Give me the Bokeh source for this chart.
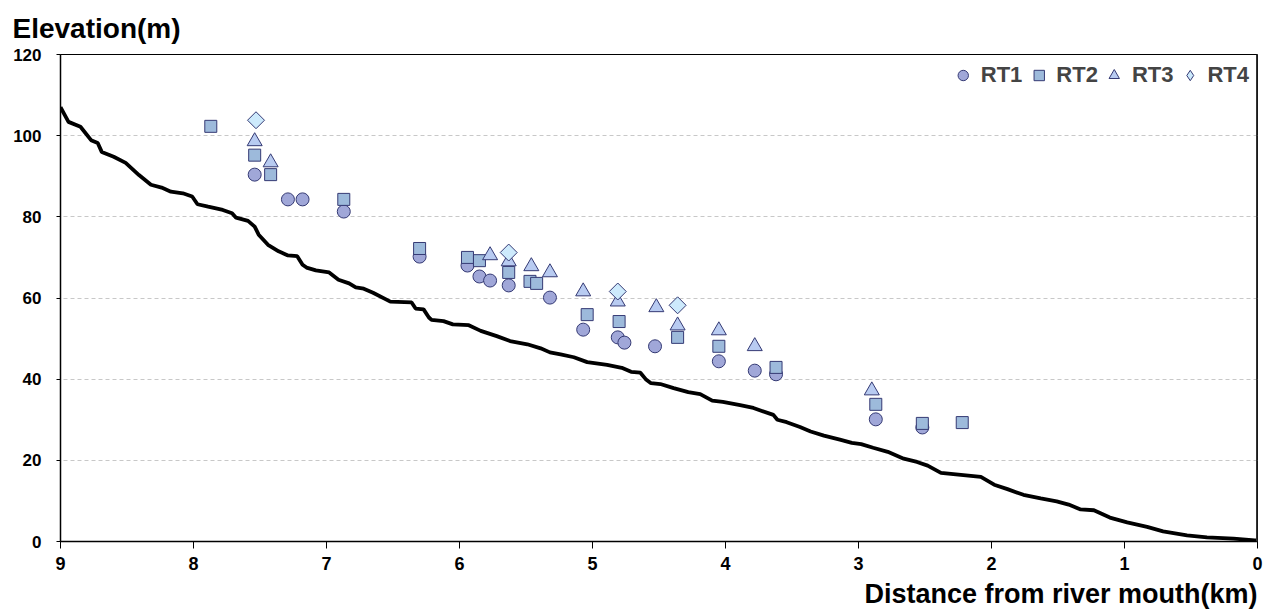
import math
from bokeh.plotting import figure
from bokeh.models import Range1d, Legend, LegendItem, Title, Span, FixedTicker
from bokeh.embed import file_html
from bokeh.resources import INLINE

# River profile (distance km, elevation m)
profile_x = [9.0, 8.94, 8.85, 8.77, 8.72, 8.69, 8.60, 8.51, 8.41, 8.32, 8.24, 8.17, 8.08, 8.01, 7.97,
             7.89, 7.78, 7.71, 7.68, 7.59, 7.54, 7.51, 7.44, 7.36, 7.29, 7.22, 7.18, 7.15, 7.08, 6.98,
             6.91, 6.83, 6.78, 6.72, 6.65, 6.52, 6.36, 6.33, 6.27, 6.23, 6.21, 6.12, 6.05, 5.93, 5.84,
             5.72, 5.62, 5.49, 5.39, 5.32, 5.24, 5.14, 5.04, 4.89, 4.78, 4.71, 4.64, 4.60, 4.56, 4.49,
             4.39, 4.28, 4.19, 4.10, 4.02, 3.89, 3.79, 3.64, 3.61, 3.54, 3.44, 3.36, 3.26, 3.14, 3.05,
             2.98, 2.89, 2.78, 2.66, 2.56, 2.48, 2.38, 2.23, 2.08, 1.98, 1.88, 1.76, 1.63, 1.51, 1.42,
             1.33, 1.23, 1.11, 0.98, 0.83, 0.71, 0.53, 0.38, 0.18, 0.02, 0.0]
profile_y = [107.0, 103.4, 102.2, 98.9, 98.2, 96.0, 94.8, 93.3, 90.3, 87.9, 87.2, 86.2, 85.8, 85.0, 83.1,
             82.5, 81.7, 80.9, 79.8, 79.0, 77.6, 75.6, 73.1, 71.5, 70.5, 70.3, 68.2, 67.5, 66.8, 66.3,
             64.5, 63.6, 62.6, 62.3, 61.3, 59.1, 58.9, 57.4, 57.2, 55.2, 54.6, 54.3, 53.5, 53.3, 51.9,
             50.6, 49.4, 48.6, 47.6, 46.6, 46.1, 45.4, 44.2, 43.5, 42.8, 41.8, 41.6, 40.0, 39.0, 38.8,
             37.8, 36.8, 36.3, 34.7, 34.4, 33.6, 32.9, 31.2, 30.0, 29.4, 28.2, 27.1, 26.1, 25.1, 24.3,
             24.0, 23.1, 22.1, 20.4, 19.6, 18.7, 16.9, 16.4, 15.9, 14.0, 12.9, 11.5, 10.6, 9.9, 9.1,
             7.9, 7.7, 5.9, 4.7, 3.6, 2.5, 1.5, 1.0, 0.7, 0.3, 0.3]

rt1_x = [7.54, 7.29, 7.18, 6.87, 6.30, 5.94, 5.85, 5.77, 5.63, 5.32, 5.07, 4.81, 4.76, 4.53, 4.05, 3.78, 3.62, 2.87, 2.52]
rt1_y = [90.4, 84.3, 84.3, 81.3, 70.2, 68.0, 65.3, 64.3, 63.1, 60.1, 52.2, 50.3, 49.0, 48.1, 44.4, 42.1, 41.2, 30.1, 28.1]

rt2_x = [7.87, 7.54, 7.42, 6.87, 6.30, 5.94, 5.85, 5.63, 5.47, 5.42, 5.04, 4.80, 4.36, 4.05, 3.62, 2.87, 2.52, 2.22]
rt2_y = [102.3, 95.2, 90.4, 84.3, 72.2, 70.0, 69.2, 66.3, 64.1, 63.6, 55.9, 54.2, 50.3, 48.1, 42.9, 33.8, 29.1, 29.3]

rt3_x = [7.54, 7.42, 5.77, 5.63, 5.46, 5.32, 5.07, 4.81, 4.52, 4.36, 4.05, 3.78, 2.90]
rt3_y = [98.6, 93.4, 70.5, 69.0, 67.8, 66.3, 61.6, 59.1, 57.7, 53.2, 52.0, 48.1, 37.2]

rt4_x = [7.53, 5.63, 4.81, 4.36]
rt4_y = [103.8, 71.2, 61.6, 58.2]

legend_labels = ["RT1", "RT2", "RT3", "RT4"]
y_ticks = [0, 20, 40, 60, 80, 100, 120]
x_ticks = [0, 1, 2, 3, 4, 5, 6, 7, 8, 9]

FONT = "Liberation Sans"

p = figure(width=1267, height=612, output_backend="svg", toolbar_location=None,
           x_range=Range1d(9, 0), y_range=Range1d(0, 120),
           min_border_left=60, min_border_right=10, min_border_top=54, min_border_bottom=10)

p.title = Title(text="Elevation(m)", align="left", offset=-48, text_font=FONT,
                text_font_size="28px", text_font_style="bold", text_color="black", standoff=21)
p.add_layout(Title(text="Distance from river mouth(km)", align="right", text_font=FONT,
                   text_font_size="27px", text_font_style="bold", text_color="black", standoff=8), "below")

p.outline_line_color = "black"
p.outline_line_width = 1
p.background_fill_color = "white"
p.border_fill_color = "white"

p.xgrid.visible = False
p.ygrid.grid_line_color = "#c8c8c8"
p.ygrid.grid_line_dash = "4 3"
p.ygrid.grid_line_width = 1

p.xaxis.ticker = FixedTicker(ticks=x_ticks)
p.yaxis.ticker = FixedTicker(ticks=y_ticks)
p.xaxis.minor_tick_line_color = None
p.yaxis.minor_tick_line_color = None
for ax in (p.xaxis, p.yaxis):
    ax.axis_line_color = "black"
    ax.axis_line_width = 1.5
    ax.major_tick_line_color = "black"
    ax.major_label_text_font = FONT
    ax.major_label_text_font_style = "bold"
    ax.major_label_text_color = "black"
p.xaxis.major_tick_in = 0
p.xaxis.major_tick_out = 7
p.xaxis.major_label_text_font_size = "18px"
p.xaxis.major_label_standoff = 8
p.yaxis.major_tick_in = 0
p.yaxis.major_tick_out = 4
p.yaxis.major_label_text_font_size = "17px"
p.yaxis.major_label_standoff = 15

p.add_layout(Span(location=0, dimension="height", line_color="#333333", line_width=3))

p.line(profile_x, profile_y, line_color="black", line_width=3.8)

edge = "#353a74"
c1, c2, c3, c4 = "#a0a7d8", "#9dbadb", "#b8cbf1", "#cdeafc"
r1 = p.scatter(rt1_x, rt1_y, marker="circle", size=13, fill_color=c1, line_color=edge, line_width=1)
r2 = p.scatter(rt2_x, rt2_y, marker="square", size=12, fill_color=c2, line_color=edge, line_width=1)
r3 = p.scatter(rt3_x, rt3_y, marker="triangle", size=15, fill_color=c3, line_color=edge, line_width=1)
# diamond glyph (used for the legend), covered by the rotated-square glyph drawn on top
r4_leg = p.scatter(rt4_x, rt4_y, marker="diamond", size=15, fill_color=c4, line_color=edge, line_width=1)
r4 = p.scatter(rt4_x, rt4_y, marker="square", angle=math.pi / 4, size=12, fill_color=c4,
               line_color=edge, line_width=1)

legend = Legend(items=[LegendItem(label=legend_labels[i], renderers=[r]) for i, r in enumerate([r1, r2, r3, r4_leg])],
                orientation="horizontal", location="top_right",
                border_line_alpha=0, background_fill_alpha=0,
                label_text_font=FONT, label_text_font_style="bold", label_text_font_size="22px",
                glyph_width=26, glyph_height=26, spacing=3, label_standoff=5, margin=8, padding=0)
p.add_layout(legend)

open("out.html", "w").write(file_html(p, INLINE))
